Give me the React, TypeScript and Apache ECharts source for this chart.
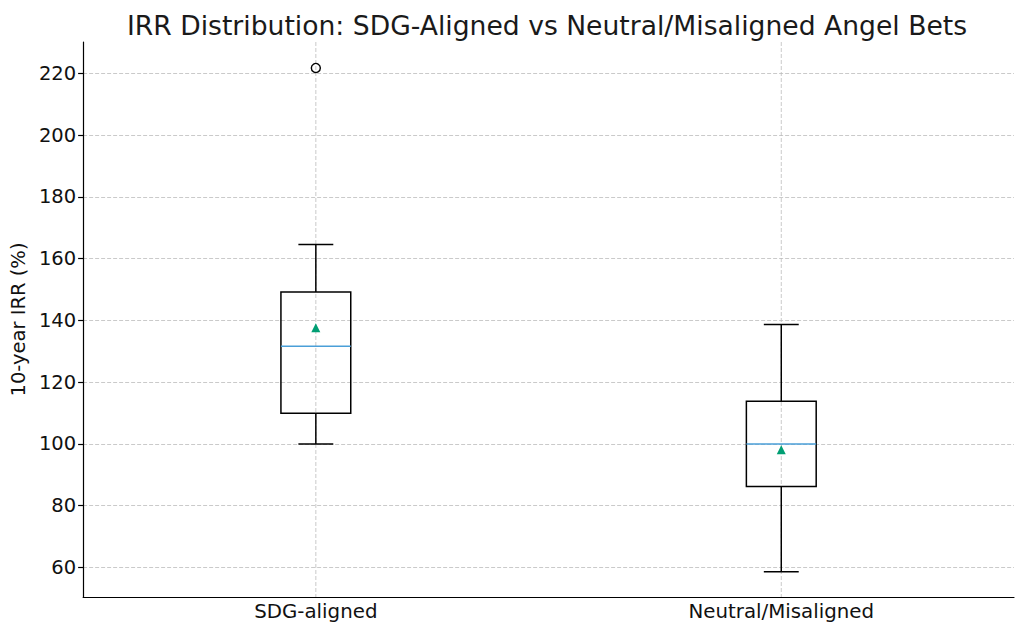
import React, { useEffect, useRef } from 'react';
import * as echarts from 'echarts';

const categories = ['SDG-aligned', 'Neutral/Misaligned'];
const whiskerLow = [100, 58.6];
const q1 = [109.9, 86.2];
const median = [131.6, 100];
const q3 = [149.2, 113.8];
const whiskerHigh = [164.6, 138.7];
const means = [137.6, 98.1];
const outliers = [[0, 221.8]];
const yTicks = [60, 80, 100, 120, 140, 160, 180, 200, 220];

const FONT = 'DejaVu Sans';
const GRID_COLOR = '#bdbdbd';

export default function App() {
  const chartRef = useRef<HTMLDivElement>(null);

  useEffect(() => {
    if (!chartRef.current) return;
    document.body.style.margin = '0';
    const myChart = echarts.init(chartRef.current, null, { renderer: 'svg' });

    const boxData = categories.map((_, i) => [i, whiskerLow[i], q1[i], median[i], q3[i], whiskerHigh[i]]);

    const option = {
      animation: false,
      title: {
        text: 'IRR Distribution: SDG-Aligned vs Neutral/Misaligned Angel Bets',
        left: 542,
        top: 7,
        textAlign: 'center',
        textStyle: { fontFamily: FONT, fontSize: 26.6, fontWeight: 'normal', color: '#1a1a1a' },
      },
      grid: { left: 83, right: 10, top: 42, bottom: 37 },
      xAxis: {
        type: 'category',
        data: categories,
        boundaryGap: true,
        axisLine: { lineStyle: { color: '#000', width: 1.2 } },
        axisTick: { alignWithLabel: true, length: 5, lineStyle: { color: '#000', width: 1.2 } },
        axisLabel: { fontFamily: FONT, fontSize: 19.8, color: '#111', margin: 4 },
        splitLine: { show: false },
      },
      yAxis: {
        type: 'value',
        min: 50.4,
        max: 230.2,
        name: '10-year IRR (%)',
        nameLocation: 'middle',
        nameGap: 52,
        nameTextStyle: { fontFamily: FONT, fontSize: 19.5, color: '#111' },
        axisLine: { show: true, lineStyle: { color: '#000', width: 1.2 } },
        axisTick: { show: true, length: 5, customValues: yTicks, lineStyle: { color: '#000', width: 1.2 } },
        axisLabel: { fontFamily: FONT, fontSize: 19.5, color: '#111', margin: 7, customValues: yTicks },
        splitLine: { show: true, lineStyle: { color: GRID_COLOR, type: [4, 2], width: 0.8 } },
      },
      series: [
        {
          type: 'custom',
          data: boxData,
          encode: { x: 0, y: [1, 2, 3, 4, 5] },
          renderItem: (params: any, api: any) => {
            const idx = api.value(0);
            const cx = api.coord([idx, api.value(3)])[0];
            const band = api.size([1, 0])[0];
            const half = band * 0.075;
            const capHalf = half / 2;
            const y = (v: number) => api.coord([idx, v])[1];
            const yLow = y(api.value(1));
            const yQ1 = y(api.value(2));
            const yMed = y(api.value(3));
            const yQ3 = y(api.value(4));
            const yHigh = y(api.value(5));
            const cs = params.coordSys;
            const stroke = { stroke: '#000', lineWidth: 1.5, fill: null };
            return {
              type: 'group',
              children: [
                {
                  type: 'line',
                  shape: { x1: cx, y1: cs.y, x2: cx, y2: cs.y + cs.height },
                  style: { stroke: GRID_COLOR, lineWidth: 0.8, lineDash: [4, 2] },
                },
                { type: 'line', shape: { x1: cx, y1: yHigh, x2: cx, y2: yQ3 }, style: stroke },
                { type: 'line', shape: { x1: cx, y1: yQ1, x2: cx, y2: yLow }, style: stroke },
                { type: 'line', shape: { x1: cx - capHalf, y1: yHigh, x2: cx + capHalf, y2: yHigh }, style: stroke },
                { type: 'line', shape: { x1: cx - capHalf, y1: yLow, x2: cx + capHalf, y2: yLow }, style: stroke },
                {
                  type: 'rect',
                  shape: { x: cx - half, y: yQ3, width: half * 2, height: yQ1 - yQ3 },
                  style: { stroke: '#000', lineWidth: 1.5, fill: 'none' },
                },
                {
                  type: 'line',
                  shape: { x1: cx - half, y1: yMed, x2: cx + half, y2: yMed },
                  style: { stroke: '#4a9fd8', lineWidth: 1.5 },
                },
              ],
            };
          },
        },
        {
          type: 'scatter',
          data: means.map((m, i) => [i, m]),
          symbol: 'triangle',
          symbolSize: [9, 9],
          itemStyle: { color: '#009e73', opacity: 1 },
          z: 3,
        },
        {
          type: 'scatter',
          data: outliers,
          symbol: 'circle',
          symbolSize: 9,
          itemStyle: { color: 'rgba(0,0,0,0)', borderColor: '#000', borderWidth: 1.4, opacity: 1 },
          z: 3,
        },
      ],
    };

    myChart.setOption(option as any);

    return () => {
      myChart.dispose();
    };
  }, []);

  return <div ref={chartRef} style={{ width: '1024px', height: '634px' }} />;
}
